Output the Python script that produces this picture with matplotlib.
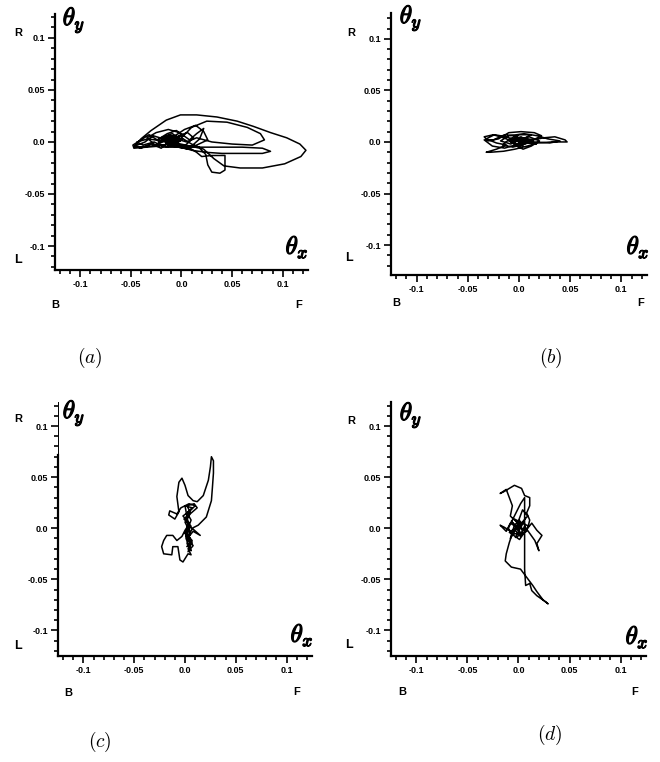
import numpy as np
import matplotlib
matplotlib.use('Agg')
import matplotlib.pyplot as plt
import matplotlib.patheffects as pe

plt.rcParams['mathtext.fontset'] = 'cm'
plt.rcParams['font.family'] = ['Liberation Sans', 'DejaVu Sans']

# 값은 1/1000 단위로 기록 (theta_x, theta_y)
a_x = [-8, -15, -22, -12, -3, -18, -28, -36, -46, -40, -30, -20, -9, 2, -5, -14, -24, -32, -40, -48,
       -47, -35, -22, -10, -3, 6, 12, 4, -6, -16, -26, -34, -25, -13, -2, 8, 15, 22, 18, 10,
       0, -11, -20, -9, 0, -7, -17, -27, -38, -44, -33, -20, -8, 3, 14, 22, 26, 15, 5, -5,
       -12, -4, -14, -6, -18, -8, -2, -11, -19, -7, 1, -9, -16, -4, -13, -23, -10, -1, -15, -6,
       -15, 10, 35, 60, 80, 88, 80, 60, 40, 25, 10, -2, -10,
       18, 24, 26, 30, 38, 43, 43, 43, 30, 20, 15,
       5, -10, -30, -47, -40, -30, -15, -1, 15, 35, 55, 71, 88, 104, 117, 123, 118, 102, 80, 58,
       42, 32, 22, 10,
       0, 10, 25, 45, 65, 78, 82, 70, 50, 30, 15, 5, -5,
       -12, -20, -8, -16, -3, -10, -24, -14, -5, -11]
a_y = [0, 5, -1, 7, -2, 3, 6, 0, -4, -6, -2, -6, 3, 6, 11, 8, 2, 7, 2, -3,
       -6, -5, -4, -1, 6, 9, 4, -3, -5, 1, -3, 4, 9, 12, 9, 2, 8, 13, 3, -4,
       -6, -2, 4, 8, 2, -3, -5, 0, -3, 0, 3, 1, 5, 12, 16, 10, 2, -3, -7, -3,
       2, 5, -1, 3, 1, -2, 4, 6, 2, 0, 3, 1, 5, -1, 2, 0, 4, 1, -2, 3,
       -5, -5, -5, -5, -6, -9, -11, -11, -11, -10, -8, -4, 0,
       -6, -12, -22, -29, -30, -27, -18, -13, -13, -14, -10,
       -4, -2, -4, -5, 3, 11, 21, 26, 26, 24, 20, 15, 9, 4, -2, -8, -14, -21, -25, -25,
       -23, -16, -7, -2,
       4, 14, 20, 19, 14, 8, 2, -3, -2, 0, 4, 0, 3,
       1, 4, 6, 0, 3, -1, 2, 5, 1, 0]

b_x = [-5, -15, -25, -34, -30, -20, -10, 2, 15, 22, 14, 24, 35, 45, 47, 32, 18, 8, -4, -15,
       -28, -32, -22, -12, -22, -32, -24, -12, -3, 6, 12, 0, -9, -16, -6, 6, 14, 4, -6, 0,
       9, 17, 4, -4, -14, -25, -34, -26, -14, -4, 4, 12, 20, 10, 0, -8, -18, -10, 5, 18,
       28, 40, 30, 15, 3, -6, 8, -2, 12, 2, -10, 4, -4, 10, 0, -8, 6, -2, 14, 5]
b_y = [0, 4, 7, 5, 1, 3, 9, 10, 9, 6, 2, 4, 5, 2, 0, 0, -1, -4, -7, -9,
       -10, -10, -7, -3, -1, 3, 7, 5, 1, 4, 7, 7, 3, -3, -5, -2, 2, 4, 0, -3,
       0, -2, 2, 6, 7, 2, 2, -4, -6, -3, -7, -4, 1, 5, 2, -2, 1, 6, 8, 6,
       3, 1, -1, 0, 0, 3, 1, -2, -1, 5, 1, -4, 4, 2, -5, 0, 3, -2, 0, 2]

c_x = [3, 6, 2, 7, 0, 5, 2, 6, 1, 4, -2, 6, 10, 4, -4, -8, -15, -16, -10, -6,
       -8, -6, -3, 0, 3, 8, 12, 18, 23, 25, 26, 28, 28, 27, 26, 21, 13, 7, 15, 8,
       4, 7, 3, 6, 3, -2, -5, -7, -12, -13, -21, -23, -21, -18, -12, -8, -3, 0, 4, 1,
       5, 2, 9, 12, 5, 0, 4, 1, 5, 2, 7, 0, 6, -1, 5, 1, 7, 2, 8, 3, 6, 0, 4]
c_y = [0, 8, 15, 20, 22, -5, -15, -22, -10, 5, 12, 18, 22, 24, 20, 14, 17, 13, 9, 16,
       31, 45, 49, 42, 32, 27, 26, 32, 47, 60, 70, 66, 54, 40, 27, 11, 3, 0, -7, -3,
       -8, -14, -20, -26, -25, -33, -31, -18, -18, -26, -25, -18, -12, -7, -7, -12, -8, -2, 4, 10,
       16, 22, 24, 20, 14, 6, -2, -8, -14, -18, -12, -4, 2, 9, 15, 7, -1, -9, -17, -23, -15, -5, 3]

d_x = [0, -8, -12, -18, -14, -6, 2, -5, -8, -6, -9, -12, -18, -14, -4, 3, 6, 11, 11, 8,
       11, 9, 13, 18, 23, 18, 20, 16, 11, 6, 2, -3, -8, -4, 1, 4, -6, -10, -3, 2,
       6, 6, 6, 6, 7, 11, 13, 18, 28, 29, 24, 18, 14, 8, 2, -7, -13, -12, -9, -5,
       2, 9, 4, 1, -2, -7, 3, -5, 8, -3, 5, -9, 1, 10, -4, 4]
d_y = [0, 5, -3, 3, 1, -4, 3, 9, 12, 22, 30, 38, 34, 36, 42, 39, 32, 30, 22, 15,
       8, 0, 5, -2, -7, -15, -22, -12, -5, 2, -8, -2, -10, 3, 8, -4, -6, 0, 14, 24,
       30, 10, -20, -40, -56, -54, -61, -66, -73, -74, -70, -62, -56, -48, -40, -38, -32, -25, -14, -2,
       4, 12, 18, 10, 1, 7, -6, 4, -3, -9, 6, -4, -11, 2, 9, -1]

series = [(a_x, a_y), (b_x, b_y), (c_x, c_y), (d_x, d_y)]
panel_names = ['(a)', '(b)', '(c)', '(d)']
tick_vals = [-0.1, -0.05, 0.0, 0.05, 0.1]
tick_labels = ['-0.1', '-0.05', '0.0', '0.05', '0.1']

# 축 위치 (left, bottom, width, height) 와 범위
rects = [[0.0833, 0.6457, 0.3833, 0.3360],
         [0.5924, 0.6391, 0.3879, 0.3438],
         [0.0879, 0.1391, 0.3848, 0.3333],
         [0.5924, 0.1391, 0.3864, 0.3333]]
ylims = [(-0.123, 0.123), (-0.129, 0.125), (-0.125, 0.1235), (-0.125, 0.1235)]
# 텍스트 위치 (픽셀): R, L, theta_y, theta_x, B, F, 패널이름
txt_pos = [
    dict(R=(18, 33), L=(18, 260), ty=(74, 20), tx=(297, 247), B=(55, 305), F=(299, 305), name=(90, 358)),
    dict(R=(351, 33), L=(349, 258), ty=(411, 18), tx=(638, 247), B=(396, 303), F=(641, 303), name=(551, 358)),
    dict(R=(18, 419), L=(18, 646), ty=(74, 413), tx=(302, 635), B=(68, 693), F=(297, 692), name=(100, 742)),
    dict(R=(351, 421), L=(349, 645), ty=(411, 415), tx=(637, 637), B=(402, 692), F=(635, 692), name=(550, 735)),
]

W, H = 660, 762
fig = plt.figure(figsize=(W / 100, H / 100), dpi=100)
bold = [pe.withStroke(linewidth=0.9, foreground='black')]

for i in range(4):
    ax = fig.add_axes(rects[i])
    xs = np.array(series[i][0]) / 1000
    ys = np.array(series[i][1]) / 1000
    ax.plot(xs, ys, color='black', lw=1.1)
    ax.set_xlim(-0.125, 0.125)
    ax.set_ylim(*ylims[i])
    ax.spines['top'].set_visible(False)
    ax.spines['right'].set_visible(False)
    ax.spines['left'].set_linewidth(1.6)
    ax.spines['bottom'].set_linewidth(1.6)
    if i == 2:
        # 원본에서 y축 윗부분이 가늘게 그려짐
        ax.spines['left'].set_bounds(ylims[i][0], 0.0715)
        ax.plot([-0.125, -0.125], [0.0715, ylims[i][1]], color='black', lw=0.7, clip_on=False)
    ax.set_xticks(tick_vals)
    ax.set_yticks(tick_vals)
    ax.set_xticklabels(tick_labels, fontsize=6.5, fontweight='bold')
    ax.set_yticklabels(tick_labels, fontsize=6.5, fontweight='bold')
    ax.set_xticks(np.arange(-0.12, 0.1201, 0.01), minor=True)
    ax.set_yticks(np.arange(-0.12, 0.1201, 0.01), minor=True)
    ax.tick_params(which='major', direction='out', length=5, width=1.2, pad=2)
    ax.tick_params(which='minor', direction='out', length=3, width=1.2)

    p = txt_pos[i]
    def put(key, s, **kw):
        x, y = p[key]
        fig.text(x / W, 1 - y / H, s, ha='center', va='center', **kw)
    put('R', 'R', fontsize=8, fontweight='bold')
    put('L', 'L', fontsize=9, fontweight='bold')
    put('B', 'B', fontsize=8, fontweight='bold')
    put('F', 'F', fontsize=8, fontweight='bold')
    put('ty', r'$\theta_y$', fontsize=18, path_effects=bold)
    put('tx', r'$\theta_x$', fontsize=18, path_effects=bold)
    put('name', '$' + panel_names[i] + '$', fontsize=14)

fig.savefig('out.png', dpi=100)
